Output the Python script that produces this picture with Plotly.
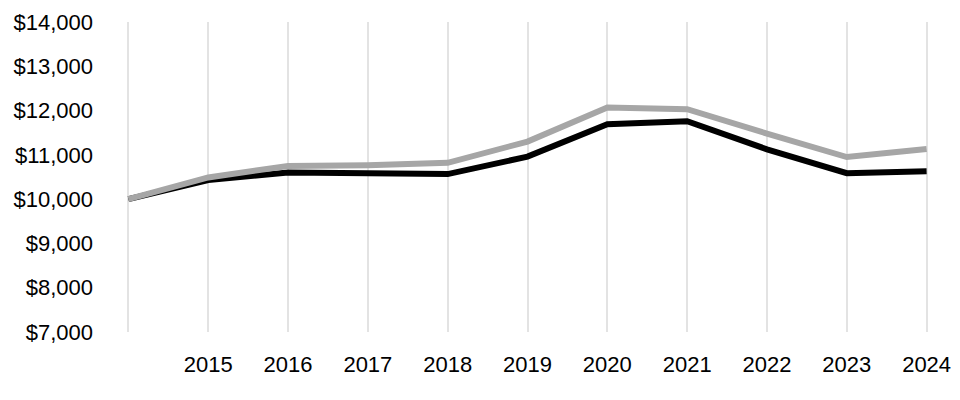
import plotly.graph_objects as go

years = [2014, 2015, 2016, 2017, 2018, 2019, 2020, 2021, 2022, 2023, 2024]
tick_labels = ["", "2015", "2016", "2017", "2018", "2019", "2020", "2021", "2022", "2023", "2024"]
black_series = [10000, 10430, 10600, 10585, 10565, 10960, 11690, 11760, 11125, 10585, 10630]
gray_series = [10000, 10490, 10750, 10765, 10820, 11300, 12070, 12030, 11480, 10950, 11130]

fig = go.Figure()
fig.add_trace(go.Scatter(x=years, y=black_series, mode="lines",
                         line=dict(color="#000000", width=6), showlegend=False))
fig.add_trace(go.Scatter(x=years, y=gray_series, mode="lines",
                         line=dict(color="#a6a6a6", width=6), showlegend=False))

fig.update_layout(
    width=960, height=400,
    margin=dict(l=126, r=31, t=22, b=68, autoexpand=False),
    paper_bgcolor="white", plot_bgcolor="white",
    font=dict(family="Liberation Sans, Arial, sans-serif", size=22, color="#000000"),
    xaxis=dict(range=[2013.97, 2024.03], tickmode="array", tickvals=years, ticktext=tick_labels,
               showgrid=True, gridcolor="#e3e3e3", gridwidth=2, zeroline=False,
               showline=False, ticks="", ticklabelstandoff=17, automargin=False),
    yaxis=dict(range=[7000, 14000], tickmode="linear", tick0=7000, dtick=1000,
               tickprefix="$", tickformat=",", showgrid=False, zeroline=False,
               showline=False, ticks="", ticklabelstandoff=32, automargin=False),
)

fig.write_html("out.html")
